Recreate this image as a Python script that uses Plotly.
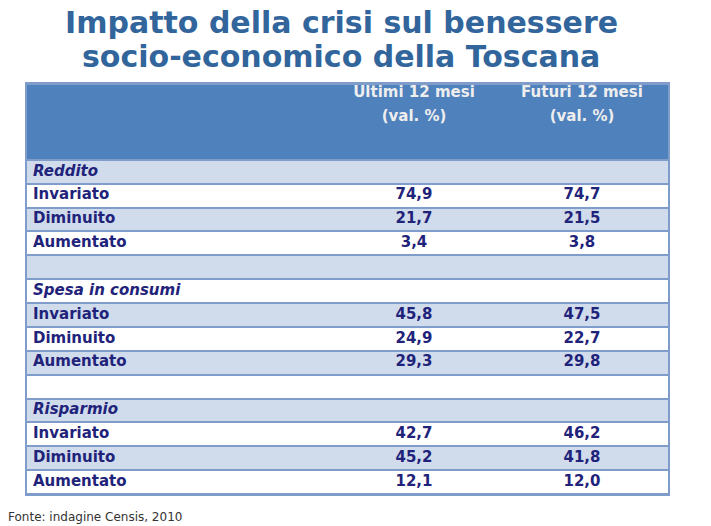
"""Impatto della crisi sul benessere socio-economico della Toscana."""
import plotly.graph_objects as go

sections = ["Reddito", "Spesa in consumi", "Risparmio"]
items = ["Invariato", "Diminuito", "Aumentato"]
ultimi = [[74.9, 21.7, 3.4], [45.8, 24.9, 29.3], [42.7, 45.2, 12.1]]
futuri = [[74.7, 21.5, 3.8], [47.5, 22.7, 29.8], [46.2, 41.8, 12.0]]
header_top = ["Ultimi 12 mesi", "Futuri 12 mesi"]
header_bottom = ["(val. %)", "(val. %)"]
title_lines = ["Impatto della crisi sul benessere", "socio-economico della Toscana"]
source = "Fonte: indagine Censis, 2010"

NAVY = "#1f237a"
LIGHT = "#d0dcec"
HEAD = "#4f81bd"
BORDER = "#7f9ccb"
FONT = "DejaVu Sans"

W, H = 711, 526

# table geometry in pixels (x) and row units (y)
TABLE_W = 641
HEADER_H = 3.18
label_x = 6
value_x = [387, 555]


def fmt(v):
    return f"{v:.1f}".replace(".", ",")


def px(x):
    return x / W


def py(y):
    return 1 - y / H


# build the rows
labels, col_u, col_f, italic = [], [], [], []
for s, (sec, u_vals, f_vals) in enumerate(zip(sections, ultimi, futuri)):
    if s > 0:
        labels.append("")
        col_u.append("")
        col_f.append("")
        italic.append(False)
    labels.append(sec)
    col_u.append("")
    col_f.append("")
    italic.append(True)
    for item, u, f in zip(items, u_vals, f_vals):
        labels.append(item)
        col_u.append(fmt(u))
        col_f.append(fmt(f))
        italic.append(False)

n = len(labels)
y_edges = [0, HEADER_H] + [HEADER_H + i + 1 for i in range(n)]
y_mid = [HEADER_H + i + 0.5 for i in range(n)]
z = [[2]] + [[(i + 1) % 2] for i in range(n)]

fig = go.Figure()
fig.add_trace(
    go.Heatmap(
        x=[0, TABLE_W],
        y=y_edges,
        z=z,
        zmin=0,
        zmax=2,
        colorscale=[[0, "white"], [0.5, LIGHT], [1, HEAD]],
        showscale=False,
        ygap=2,
        hoverinfo="skip",
    )
)

# row labels
fig.add_trace(
    go.Scatter(
        x=[label_x] * n,
        y=y_mid,
        mode="text",
        text=[f"<b><i>{t}</i></b>" if it else f"<b>{t}</b>" for t, it in zip(labels, italic)],
        textposition="middle right",
        textfont=dict(family=FONT, size=15, color=NAVY),
        hoverinfo="skip",
    )
)

# values
for xv, col in zip(value_x, [col_u, col_f]):
    fig.add_trace(
        go.Scatter(
            x=[xv] * n,
            y=y_mid,
            mode="text",
            text=[f"<b>{t}</b>" for t in col],
            textposition="middle center",
            textfont=dict(family=FONT, size=15, color=NAVY),
            hoverinfo="skip",
        )
    )

# header
for yv, txt in [(0.38, header_top), (1.38, header_bottom)]:
    fig.add_trace(
        go.Scatter(
            x=value_x,
            y=[yv] * len(txt),
            mode="text",
            text=[f"<b>{t}</b>" for t in txt],
            textposition="middle center",
            textfont=dict(family=FONT, size=15, color="#eeeeee"),
            hoverinfo="skip",
        )
    )

fig.update_xaxes(
    domain=[px(27), px(668)],
    range=[0, TABLE_W],
    showgrid=False,
    zeroline=False,
    showticklabels=False,
    showline=True,
    mirror=True,
    linecolor=BORDER,
    linewidth=2,
)
fig.update_yaxes(
    domain=[py(494), py(84)],
    range=[y_edges[-1], 0],
    showgrid=False,
    zeroline=False,
    showticklabels=False,
    showline=True,
    mirror=True,
    linecolor=BORDER,
    linewidth=2,
)

annotations = [
    dict(
        text=f"<b>{line}</b>",
        x=px(341),
        y=py(yc),
        xref="paper",
        yref="paper",
        xanchor="center",
        yanchor="middle",
        showarrow=False,
        font=dict(family=FONT, size=30, color="#31659b"),
    )
    for line, yc in zip(title_lines, [22, 56])
]
annotations.append(
    dict(
        text=source,
        x=px(6),
        y=py(517),
        xref="paper",
        yref="paper",
        xanchor="left",
        yanchor="middle",
        showarrow=False,
        font=dict(family=FONT, size=12, color="#333333"),
    )
)

fig.update_layout(
    width=W,
    height=H,
    margin=dict(l=0, r=0, t=0, b=0),
    paper_bgcolor="white",
    plot_bgcolor=BORDER,
    showlegend=False,
    annotations=annotations,
)

# drop the default page margin so the figure fills the window exactly
fig.write_html(
    "out.html",
    config={"displayModeBar": False},
    post_script="document.body.style.margin='0';document.body.style.overflow='hidden';",
)
